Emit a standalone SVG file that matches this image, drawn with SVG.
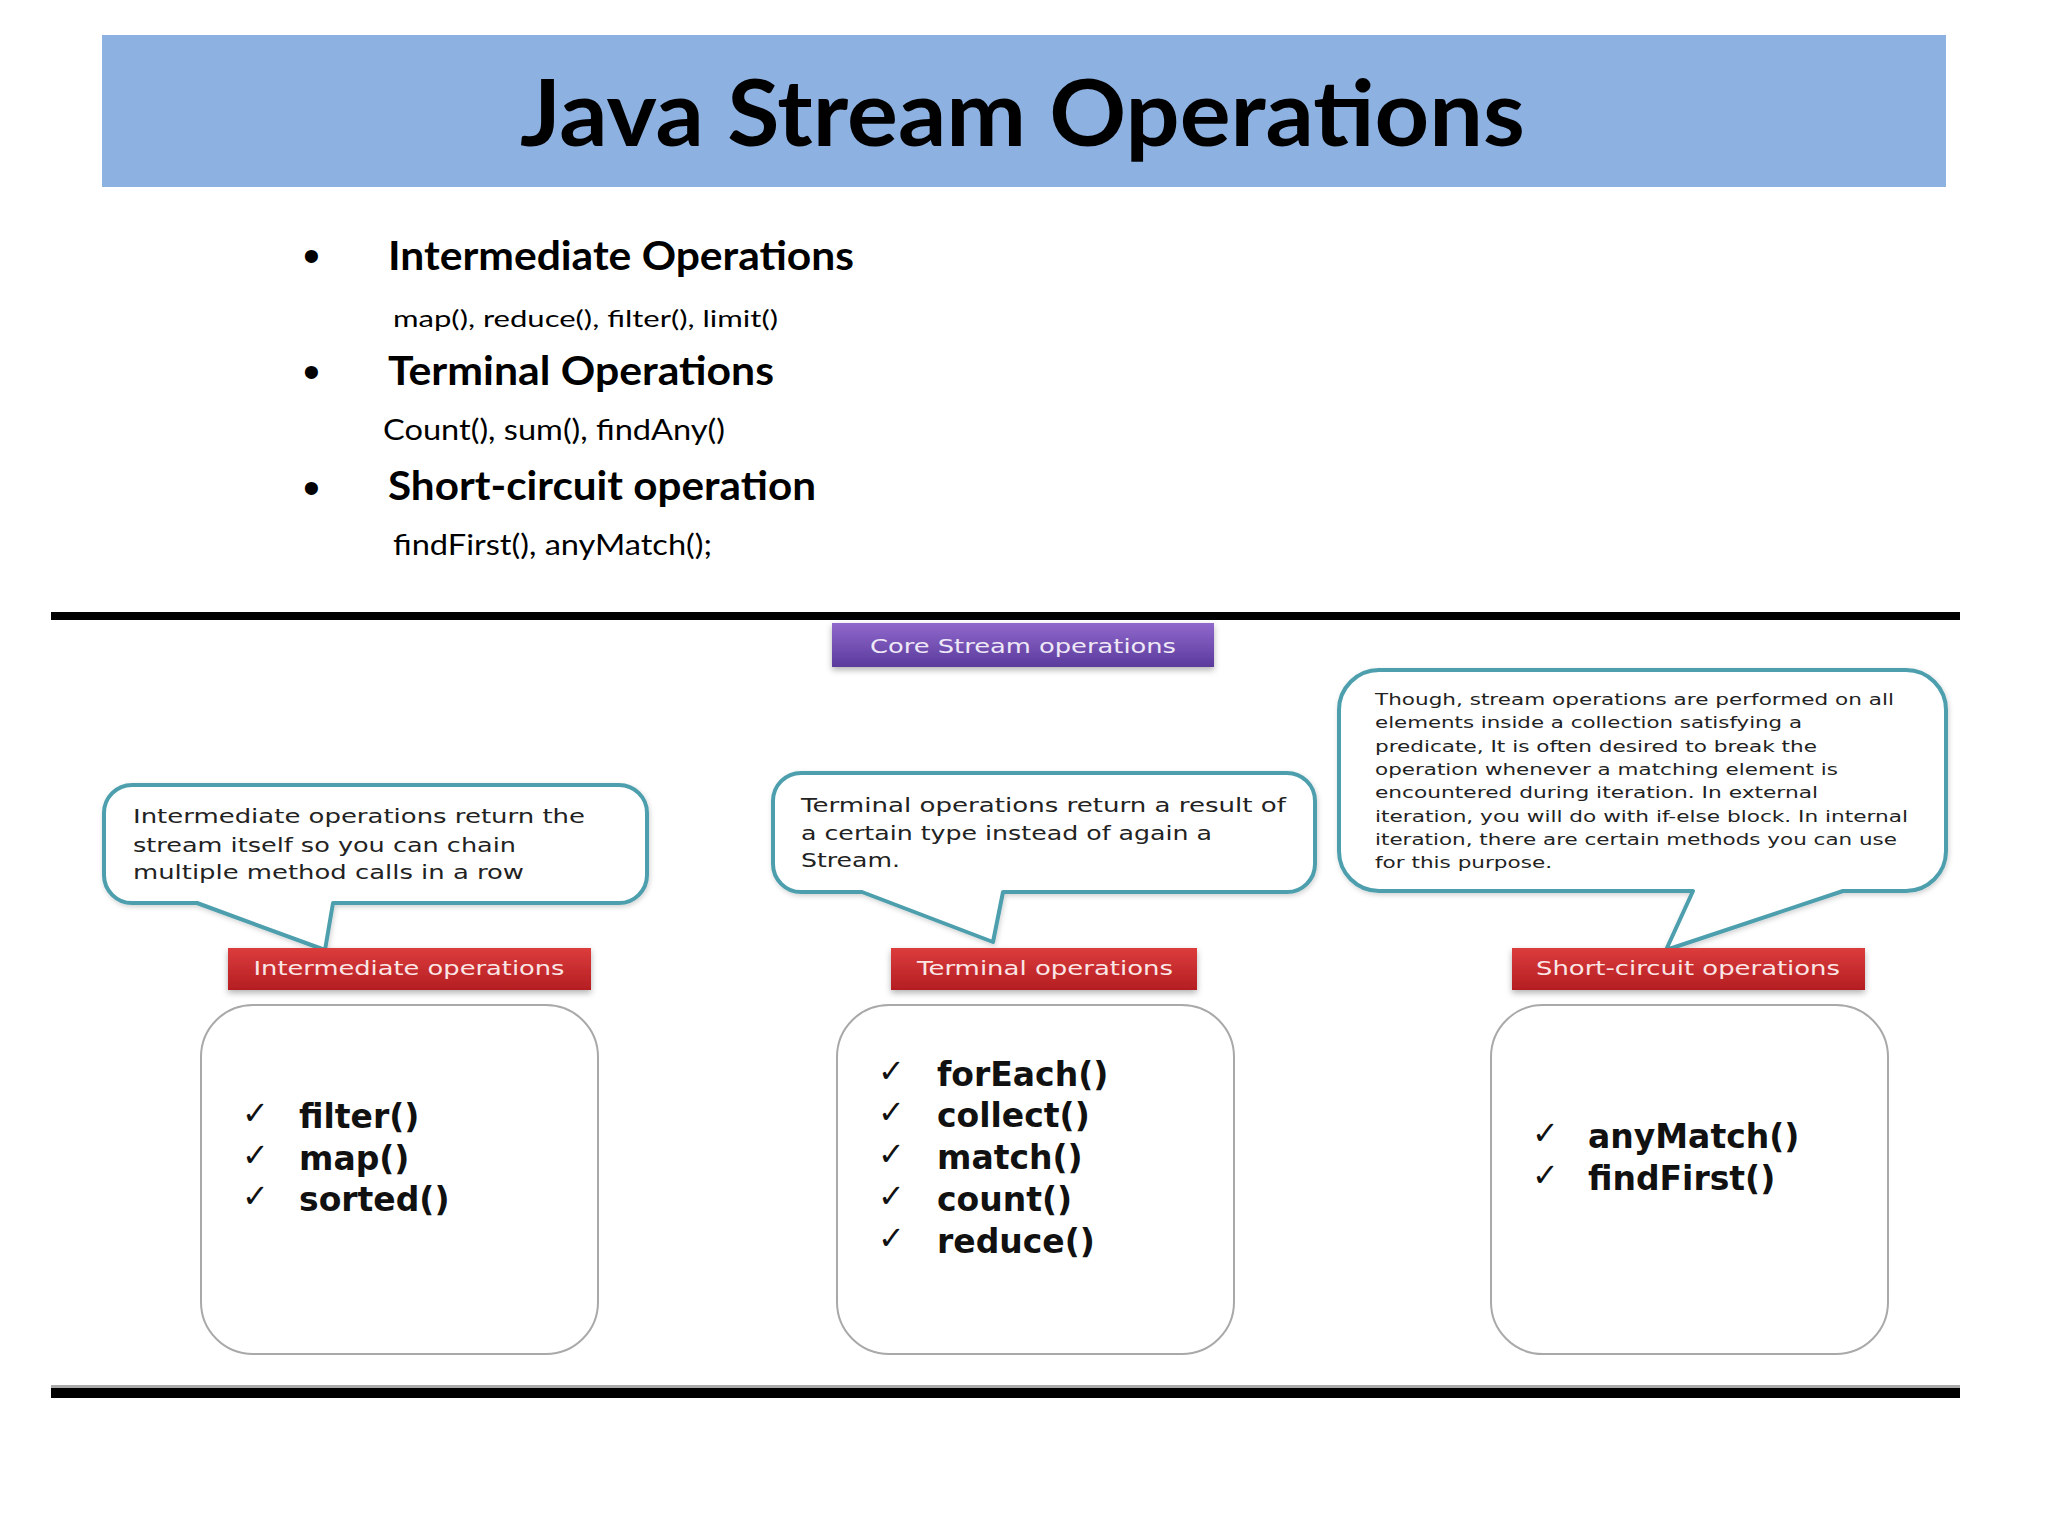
<svg xmlns="http://www.w3.org/2000/svg" width="2048" height="1536" viewBox="0 0 2048 1536">
<defs>
<linearGradient id="purple" x1="0" y1="0" x2="0" y2="1"><stop offset="0" stop-color="#9068cc"/><stop offset="1" stop-color="#5a3b9c"/></linearGradient>
<linearGradient id="red" x1="0" y1="0" x2="0" y2="1"><stop offset="0" stop-color="#dc3c3c"/><stop offset="1" stop-color="#b41e22"/></linearGradient>
<filter id="shadow" x="-10%" y="-20%" width="120%" height="150%"><feDropShadow dx="0" dy="3" stdDeviation="3" flood-color="#000" flood-opacity="0.3"/></filter>
<filter id="soft" x="-5%" y="-10%" width="110%" height="130%"><feDropShadow dx="1" dy="2" stdDeviation="2.5" flood-color="#000" flood-opacity="0.18"/></filter>
<style>
.title{font-family:Lato,"Open Sans",sans-serif;font-weight:700;fill:#000}
.head{font-family:Lato,"Open Sans",sans-serif;font-weight:700;fill:#000}
.sub{font-family:Lato,"Open Sans",sans-serif;font-weight:400;fill:#000}
.bullet{font-family:"Liberation Sans",sans-serif;font-size:48px;fill:#000}
.call{fill:#fff;stroke:#4d9fae;stroke-width:4;stroke-linejoin:round}
.ctext{font-family:"DejaVu Sans",Verdana,sans-serif;font-size:20px;fill:#222}
.ctext3{font-family:"DejaVu Sans",Verdana,sans-serif;font-size:16.5px;fill:#222}
.lbl{font-family:"DejaVu Sans",Verdana,sans-serif;font-size:20px;fill:#fbe6e6;text-anchor:middle}
.plbl{font-family:"DejaVu Sans",Verdana,sans-serif;font-size:20px;fill:#efe9f7;text-anchor:middle}
.box{fill:#fff;stroke:#a9a9a9;stroke-width:2}
.item{font-family:"DejaVu Sans",Verdana,sans-serif;font-weight:700;font-size:33px;fill:#111}
.chk{font-family:"DejaVu Sans",sans-serif;font-size:32px;font-weight:700;fill:#111}
</style>
</defs>
<rect x="0" y="0" width="2048" height="1536" fill="#fff"/>

<g id="title">
<rect x="102" y="35" width="1844" height="152" fill="#8db2e2"/>
<text class="title" x="520" y="146" font-size="92" textLength="1005" lengthAdjust="spacingAndGlyphs">Java Stream Operations</text>
</g>

<g id="bullets">
<text class="bullet" x="303" y="272">•</text>
<text class="head" x="388" y="270" font-size="40" textLength="466" lengthAdjust="spacingAndGlyphs">Intermediate Operations</text>
<text class="sub" x="393" y="327" font-size="24" textLength="385" lengthAdjust="spacingAndGlyphs">map(),  reduce(),  filter(),  limit()</text>
<text class="bullet" x="303" y="388">•</text>
<text class="head" x="388" y="385" font-size="40" textLength="386" lengthAdjust="spacingAndGlyphs">Terminal Operations</text>
<text class="sub" x="383" y="440" font-size="28" textLength="342" lengthAdjust="spacingAndGlyphs">Count(), sum(), findAny()</text>
<text class="bullet" x="303" y="504">•</text>
<text class="head" x="388" y="500" font-size="40" textLength="428" lengthAdjust="spacingAndGlyphs">Short-circuit operation</text>
<text class="sub" x="393" y="555" font-size="28" textLength="319" lengthAdjust="spacingAndGlyphs">findFirst(), anyMatch();</text>
</g>

<g id="rules">
<rect x="51" y="612" width="1909" height="8" fill="#000"/>
<rect x="51" y="1385" width="1909" height="3" fill="#aaa"/>
<rect x="51" y="1388" width="1909" height="10" fill="#000"/>
</g>

<g id="core-stream-operations">
<rect x="832" y="623" width="382" height="44" fill="url(#purple)" filter="url(#shadow)"/>
<text class="plbl" x="1023" y="653" textLength="306" lengthAdjust="spacingAndGlyphs">Core Stream operations</text>
</g>

<g id="callout-intermediate">
<path class="call" filter="url(#soft)" d="M132 785 H619 A28 28 0 0 1 647 813 V875 A28 28 0 0 1 619 903 H333 L325 950 L197 903 H132 A28 28 0 0 1 104 875 V813 A28 28 0 0 1 132 785 Z"/>
<text class="ctext" x="133" y="823" textLength="452" lengthAdjust="spacingAndGlyphs">Intermediate operations return the</text>
<text class="ctext" x="133" y="852" textLength="383" lengthAdjust="spacingAndGlyphs">stream itself so you can chain</text>
<text class="ctext" x="133" y="879" textLength="391" lengthAdjust="spacingAndGlyphs">multiple method calls in a row</text>
</g>

<g id="callout-terminal">
<path class="call" filter="url(#soft)" d="M801 773 H1287 A28 28 0 0 1 1315 801 V864 A28 28 0 0 1 1287 892 H1003 L993 942 L862 892 H801 A28 28 0 0 1 773 864 V801 A28 28 0 0 1 801 773 Z"/>
<text class="ctext" x="801" y="812" textLength="485" lengthAdjust="spacingAndGlyphs">Terminal operations return a result of</text>
<text class="ctext" x="801" y="840" textLength="411" lengthAdjust="spacingAndGlyphs">a certain type instead of again a</text>
<text class="ctext" x="801" y="867" textLength="99" lengthAdjust="spacingAndGlyphs">Stream.</text>
</g>

<g id="callout-short-circuit">
<path class="call" filter="url(#soft)" d="M1379 670 H1906 A40 40 0 0 1 1946 710 V851 A40 40 0 0 1 1906 891 H1843 L1666 950 L1693 891 H1379 A40 40 0 0 1 1339 851 V710 A40 40 0 0 1 1379 670 Z"/>
<text class="ctext3" x="1375" y="705" textLength="519" lengthAdjust="spacingAndGlyphs">Though, stream operations are performed on all</text>
<text class="ctext3" x="1375" y="728" textLength="427" lengthAdjust="spacingAndGlyphs">elements inside a collection satisfying a</text>
<text class="ctext3" x="1375" y="752" textLength="442" lengthAdjust="spacingAndGlyphs">predicate, It is often desired to break the</text>
<text class="ctext3" x="1375" y="775" textLength="463" lengthAdjust="spacingAndGlyphs">operation whenever a matching element is</text>
<text class="ctext3" x="1375" y="798" textLength="443" lengthAdjust="spacingAndGlyphs">encountered during iteration. In external</text>
<text class="ctext3" x="1375" y="822" textLength="533" lengthAdjust="spacingAndGlyphs">iteration, you will do with if-else block. In internal</text>
<text class="ctext3" x="1375" y="845" textLength="522" lengthAdjust="spacingAndGlyphs">iteration, there are certain methods you can use</text>
<text class="ctext3" x="1375" y="868" textLength="177" lengthAdjust="spacingAndGlyphs">for this purpose.</text>
</g>

<g id="label-intermediate">
<rect x="228" y="948" width="363" height="42" fill="url(#red)" filter="url(#shadow)"/>
<text class="lbl" x="409" y="975" textLength="311" lengthAdjust="spacingAndGlyphs">Intermediate operations</text>
</g>
<g id="label-terminal">
<rect x="891" y="948" width="306" height="42" fill="url(#red)" filter="url(#shadow)"/>
<text class="lbl" x="1045" y="975" textLength="256" lengthAdjust="spacingAndGlyphs">Terminal operations</text>
</g>
<g id="label-short-circuit">
<rect x="1512" y="948" width="353" height="42" fill="url(#red)" filter="url(#shadow)"/>
<text class="lbl" x="1688" y="975" textLength="304" lengthAdjust="spacingAndGlyphs">Short-circuit operations</text>
</g>

<g id="list-intermediate">
<rect class="box" x="201" y="1005" width="397" height="349" rx="52"/>
<text class="chk" x="242" y="1124">✓</text><text class="item" x="299" y="1128">filter()</text>
<text class="chk" x="242" y="1166">✓</text><text class="item" x="299" y="1170">map()</text>
<text class="chk" x="242" y="1207">✓</text><text class="item" x="299" y="1211">sorted()</text>
</g>

<g id="list-terminal">
<rect class="box" x="837" y="1005" width="397" height="349" rx="52"/>
<text class="chk" x="878" y="1082">✓</text><text class="item" x="937" y="1086">forEach()</text>
<text class="chk" x="878" y="1123">✓</text><text class="item" x="937" y="1127">collect()</text>
<text class="chk" x="878" y="1165">✓</text><text class="item" x="937" y="1169">match()</text>
<text class="chk" x="878" y="1207">✓</text><text class="item" x="937" y="1211">count()</text>
<text class="chk" x="878" y="1249">✓</text><text class="item" x="937" y="1253">reduce()</text>
</g>

<g id="list-short-circuit">
<rect class="box" x="1491" y="1005" width="397" height="349" rx="52"/>
<text class="chk" x="1532" y="1144">✓</text><text class="item" x="1588" y="1148">anyMatch()</text>
<text class="chk" x="1532" y="1186">✓</text><text class="item" x="1588" y="1190">findFirst()</text>
</g>
</svg>
